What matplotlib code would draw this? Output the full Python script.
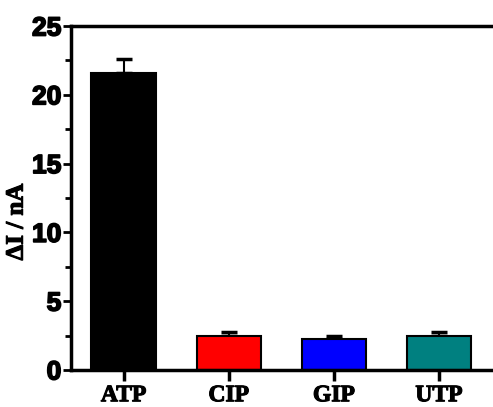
import matplotlib
matplotlib.use("Agg")
import matplotlib.pyplot as plt
from matplotlib.ticker import MultipleLocator
import matplotlib.patheffects as pe

categories = ["ATP", "CIP", "GIP", "UTP"]
values = [21.6, 2.47, 2.25, 2.47]
errors = [1.0, 0.3, 0.2, 0.3]
colors = ["#000000", "#ff0000", "#0000ff", "#008080"]

fig = plt.figure(figsize=(4.93, 4.07), dpi=100)
ax = fig.add_axes([0.144, 0.091, 0.853, 0.845])

x = list(range(len(categories)))
ax.errorbar(x, values, yerr=[[0] * len(errors), errors], fmt="none", ecolor="black",
            elinewidth=1.5, capsize=6, capthick=2.5, zorder=1)
ax.bar(x, values, width=0.61, color=colors, edgecolor="black", linewidth=1.5, zorder=2)

ax.set_xlim(-0.5, 3.5)
ax.set_ylim(0, 25)
ax.set_xticks(x)
ax.set_xticklabels(categories, fontfamily="Liberation Serif", fontweight="bold", fontsize=17)
ax.yaxis.set_major_locator(MultipleLocator(5))
ax.yaxis.set_minor_locator(MultipleLocator(2.5))
for lab in ax.get_yticklabels():
    lab.set_fontfamily("Liberation Sans")
    lab.set_fontweight("bold")
    lab.set_fontsize(19)
    lab.set_path_effects([pe.withStroke(linewidth=1.2, foreground="black")])
for lab in ax.get_xticklabels():
    lab.set_path_effects([pe.withStroke(linewidth=0.8, foreground="black")])

ax.set_ylabel("ΔI / nA", fontfamily="Liberation Serif", fontweight="bold", fontsize=18,
              path_effects=[pe.withStroke(linewidth=0.8, foreground="black")])
ax.yaxis.set_label_coords(-0.103, 0.43)

ax.spines["right"].set_visible(False)
for s in ["left", "bottom", "top"]:
    ax.spines[s].set_linewidth(2.5)

ax.tick_params(axis="y", which="major", direction="out", length=6, width=2, pad=1)
ax.tick_params(axis="y", which="minor", direction="out", length=4, width=2)
ax.tick_params(axis="x", which="major", direction="out", length=8, width=2.5, pad=3)

fig.savefig("out.png", dpi=100)
